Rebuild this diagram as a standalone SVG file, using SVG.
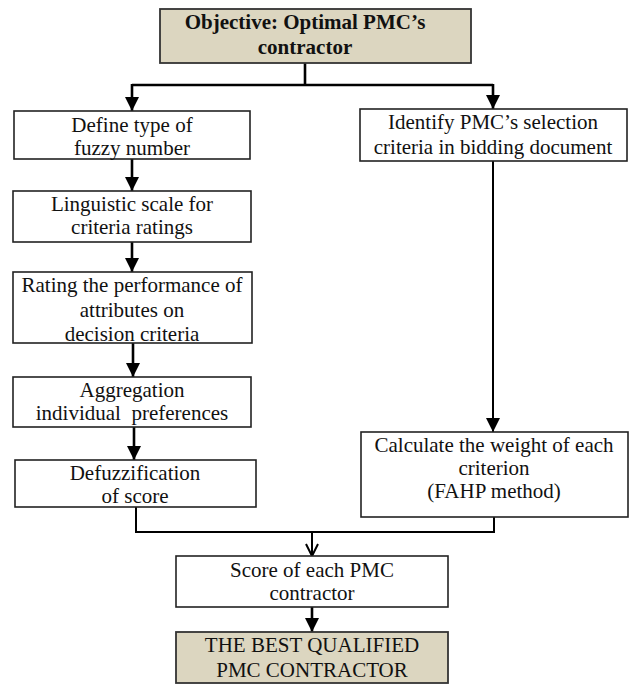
<svg xmlns="http://www.w3.org/2000/svg" width="630" height="684" viewBox="0 0 630 684">
<style>
.box{fill:#fff;stroke:#222;stroke-width:1.6}
.tan{fill:#dcd6c0;stroke:#333;stroke-width:1.8}
text{font-family:"Liberation Serif","Times New Roman",serif;font-size:21px;fill:#111;text-anchor:middle}
.b{font-weight:bold}
.c{fill:none;stroke:#000;stroke-width:2.6}
.t{fill:none;stroke:#000;stroke-width:2}
</style>
<defs>
<marker id="ah" markerUnits="userSpaceOnUse" markerWidth="16" markerHeight="16" refX="14" refY="7" orient="auto">
<path d="M0,0 L14,7 L0,14 Z" fill="#000"/>
</marker>
<marker id="ao" markerUnits="userSpaceOnUse" markerWidth="16" markerHeight="16" refX="13" refY="7" orient="auto">
<path d="M1,1 L13,7 L1,13" fill="none" stroke="#000" stroke-width="2"/>
</marker>
</defs>
<g id="connectors">
<path class="c" d="M305,63 V85"/>
<path class="c" d="M132,85 H493"/>
<path class="c" d="M132,84 V111" marker-end="url(#ah)"/>
<path class="c" d="M493,84 V109" marker-end="url(#ah)"/>
<path class="c" d="M132,159 V191" marker-end="url(#ah)"/>
<path class="c" d="M132,242 V272" marker-end="url(#ah)"/>
<path class="c" d="M133,343 V377" marker-end="url(#ah)"/>
<path class="c" d="M134,427 V460" marker-end="url(#ah)"/>
<path class="t" d="M493,161 V432" marker-end="url(#ah)"/>
<path class="t" d="M136,507 V532 H494 V517"/>
<path class="t" d="M312,532 V556" marker-end="url(#ao)"/>
<path class="c" d="M312,607 V632" marker-end="url(#ah)"/>
</g>
<g id="objective">
<rect class="tan" x="160" y="9" width="311" height="54"/>
<text class="b" x="305" y="29">Objective: Optimal PMC’s</text>
<text class="b" x="305" y="54">contractor</text>
</g>
<g id="define">
<rect class="box" x="14" y="111" width="236" height="48"/>
<text x="132" y="132">Define type of</text>
<text x="132" y="155">fuzzy number</text>
</g>
<g id="linguistic">
<rect class="box" x="13" y="191" width="238" height="51"/>
<text x="132" y="211">Linguistic scale for</text>
<text x="132" y="234">criteria ratings</text>
</g>
<g id="rating">
<rect class="box" x="13" y="272" width="239" height="71"/>
<text x="132" y="292">Rating the performance of</text>
<text x="132" y="317">attributes on</text>
<text x="132" y="341">decision criteria</text>
</g>
<g id="aggregation">
<rect class="box" x="13" y="377" width="238" height="50"/>
<text x="132" y="397">Aggregation</text>
<text x="132" y="420" xml:space="preserve">individual  preferences</text>
</g>
<g id="defuzz">
<rect class="box" x="15" y="460" width="241" height="47"/>
<text x="135" y="480">Defuzzification</text>
<text x="135" y="503">of score</text>
</g>
<g id="identify">
<rect class="box" x="360" y="109" width="267" height="52"/>
<text x="493" y="129">Identify PMC’s selection</text>
<text x="493" y="154">criteria in bidding document</text>
</g>
<g id="calculate">
<rect class="box" x="361" y="432" width="267" height="85"/>
<text x="494" y="452">Calculate the weight of each</text>
<text x="494" y="475">criterion</text>
<text x="494" y="498">(FAHP method)</text>
</g>
<g id="score">
<rect class="box" x="176" y="556" width="272" height="51"/>
<text x="312" y="577">Score of each PMC</text>
<text x="312" y="600">contractor</text>
</g>
<g id="best">
<rect class="tan" x="176" y="632" width="272" height="51"/>
<text x="312" y="652">THE BEST QUALIFIED</text>
<text x="312" y="677">PMC CONTRACTOR</text>
</g>
</svg>
